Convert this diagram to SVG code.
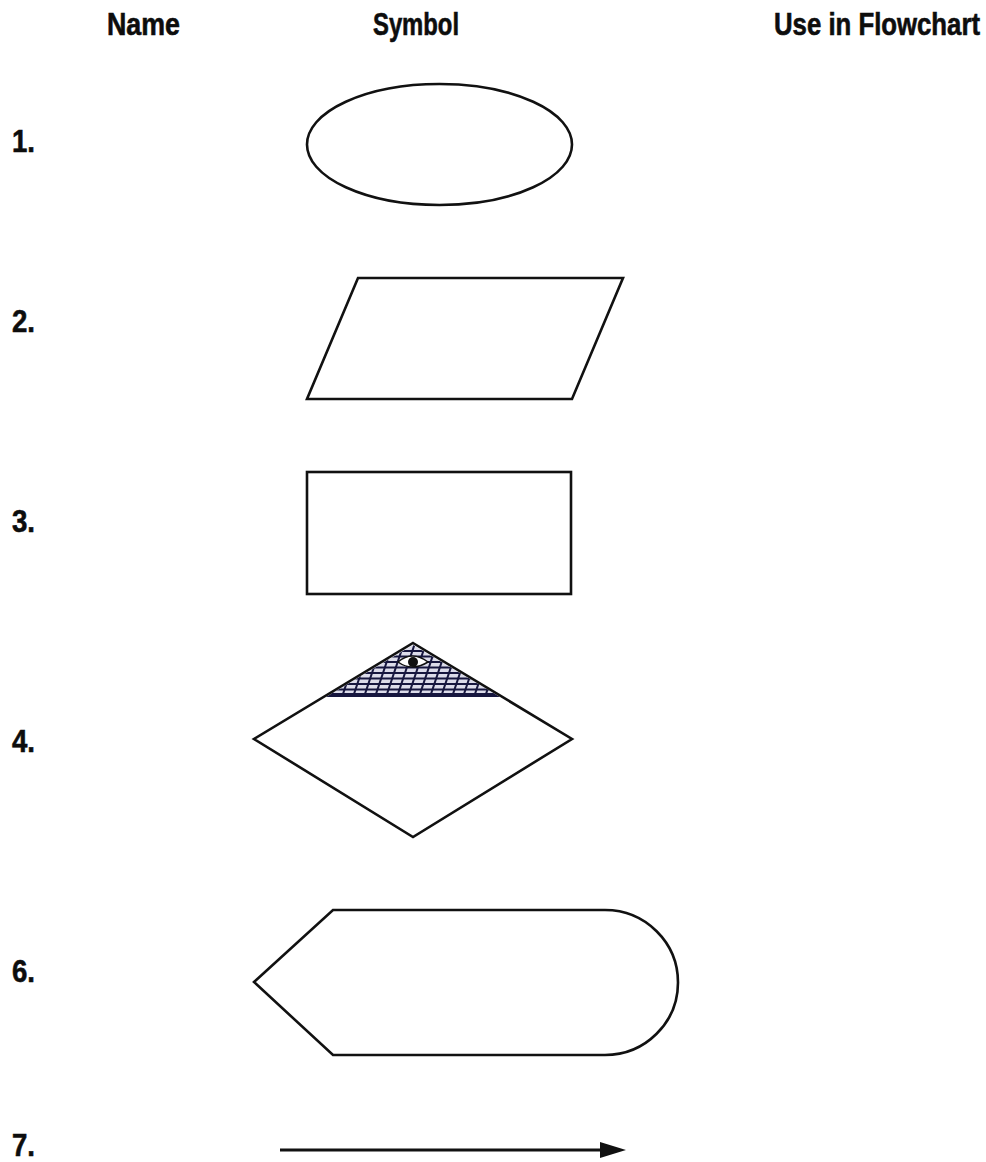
<svg xmlns="http://www.w3.org/2000/svg" width="986" height="1162" viewBox="0 0 986 1162">
  <style>
    .hdr { font-family: "Liberation Sans", Arial, sans-serif; font-weight: bold; font-size: 31px; fill: #0d0d0d; stroke: #0d0d0d; stroke-width: 0.6px; }
    .hdr-s { font-family: "Liberation Sans", Arial, sans-serif; font-weight: bold; font-size: 26px; fill: #0d0d0d; stroke: #0d0d0d; stroke-width: 0.5px; }
    .num { font-family: "Liberation Sans", Arial, sans-serif; font-weight: bold; font-size: 31px; fill: #0d0d0d; stroke: #0d0d0d; stroke-width: 0.6px; }
    .shape { fill: none; stroke: #111; stroke-width: 2.6; stroke-linejoin: miter; }
    .hatch { stroke: #16163e; stroke-width: 2; fill: none; }
  </style>
  <defs>
    <clipPath id="topTri">
      <polygon points="413,645 326,697 500,697"/>
    </clipPath>
    <marker id="arrowHead" viewBox="0 0 26 16" refX="0" refY="8" markerWidth="26" markerHeight="16" markerUnits="userSpaceOnUse" orient="auto">
      <polygon points="0,0 26,8 0,16" fill="#111"/>
    </marker>
  </defs>
  <rect width="986" height="1162" fill="#ffffff"/>

  <g id="headers">
    <text class="hdr" x="107" y="35" textLength="73" lengthAdjust="spacingAndGlyphs">Name</text>
    <text class="hdr" x="373" y="35" textLength="86" lengthAdjust="spacingAndGlyphs">Symbol</text>
    <text class="hdr-s" x="0" y="0" transform="translate(774,35) scale(1,1.19)" textLength="206" lengthAdjust="spacingAndGlyphs">Use in Flowchart</text>
  </g>

  <g id="numbers">
    <text class="num" x="12" y="152" textLength="23" lengthAdjust="spacingAndGlyphs">1.</text>
    <text class="num" x="12" y="332" textLength="23" lengthAdjust="spacingAndGlyphs">2.</text>
    <text class="num" x="12" y="532" textLength="23" lengthAdjust="spacingAndGlyphs">3.</text>
    <text class="num" x="12" y="752" textLength="23" lengthAdjust="spacingAndGlyphs">4.</text>
    <text class="num" x="12" y="982" textLength="23" lengthAdjust="spacingAndGlyphs">6.</text>
    <text class="num" x="12" y="1156" textLength="23" lengthAdjust="spacingAndGlyphs">7.</text>
  </g>

  <g id="symbol-1-terminal">
    <ellipse class="shape" cx="439.5" cy="144.5" rx="132.5" ry="60.5"/>
  </g>

  <g id="symbol-2-io">
    <polygon class="shape" points="358,278 623,278 572,399 307,399"/>
  </g>

  <g id="symbol-3-process">
    <rect class="shape" x="307" y="472" width="264" height="122"/>
  </g>

  <g id="symbol-4-decision">
    <g clip-path="url(#topTri)">
      <rect x="320" y="640" width="190" height="60" fill="#dcdcea"/>
      <path class="hatch" d="M320,651 H510 M320,656.5 H510 M320,662 H510 M320,667.5 H510 M320,673 H510 M320,678.5 H510 M320,684 H510 M320,689.5 H510 M320,694 H510"/>
      <path class="hatch" d="M330,700 L350,640 M341,700 L361,640 M352,700 L372,640 M363,700 L383,640 M374,700 L394,640 M385,700 L405,640 M396,700 L416,640 M407,700 L427,640 M418,700 L438,640 M429,700 L449,640 M440,700 L460,640 M451,700 L471,640 M462,700 L482,640 M473,700 L493,640 M484,700 L504,640 M319,700 L339,640"/>
      <path d="M326,696.5 H500" stroke="#16163e" stroke-width="3"/>
    </g>
    <path d="M398,662 Q412,650 428,662 Q412,672 398,662 Z" fill="#fff" stroke="#111" stroke-width="1.5"/>
    <circle cx="413" cy="662" r="5" fill="#111"/>
    <polygon class="shape" points="413,643 572,739 413,837 254,739"/>
  </g>

  <g id="symbol-6-display">
    <path class="shape" d="M254,982 L333,910 L605,910 A73,72.5 0 0 1 605,1055 L333,1055 Z"/>
  </g>

  <g id="connectors">
    <line x1="280" y1="1150" x2="600" y2="1150" stroke="#111" stroke-width="3" marker-end="url(#arrowHead)"/>
  </g>
</svg>
